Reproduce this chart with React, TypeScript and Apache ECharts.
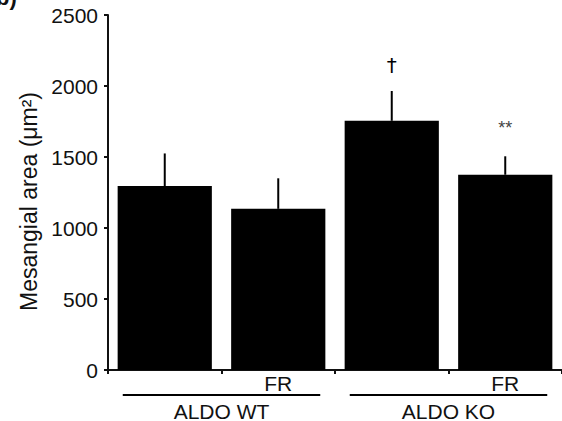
import React, { useEffect, useRef } from "react";
import * as echarts from "echarts";

const categories = ["", "FR", "", "FR"];
const means = [1295, 1135, 1755, 1375];
const errors = [230, 215, 210, 130];
const marks = ["", "", "†", "**"];
const groups = ["ALDO WT", "ALDO KO"];
const groupStart = [0, 2];
const groupEnd = [1, 3];
const yMin = 0;
const yMax = 2500;
const yInterval = 500;

const FONT = "'Liberation Sans', Arial, Helvetica, sans-serif";

export default function App() {
  const ref = useRef<HTMLDivElement>(null);
  useEffect(() => {
    if (!ref.current) return;
    const chart = echarts.init(ref.current, undefined, { renderer: "svg" });
    const option: any = {
      animation: false,
      backgroundColor: "#ffffff",
      textStyle: { fontFamily: FONT },
      grid: { left: 108, right: -4, top: 15, bottom: 51, containLabel: false },
      xAxis: {
        type: "category",
        data: categories,
        axisLine: { show: true, lineStyle: { color: "#111", width: 2 } },
        axisTick: { show: true, length: 4, lineStyle: { color: "#111", width: 2 } },
        axisLabel: { color: "#111", fontSize: 21, fontFamily: FONT, margin: 3, interval: 0 },
        splitLine: { show: false },
      },
      yAxis: {
        type: "value",
        min: yMin,
        max: yMax,
        interval: yInterval,
        name: "Mesangial area (μm²)",
        nameLocation: "middle",
        nameGap: 67,
        nameRotate: 90,
        nameTextStyle: { color: "#111", fontSize: 23, fontFamily: FONT, padding: [0, 18, 0, 0] },
        axisLine: { show: true, lineStyle: { color: "#111", width: 2 } },
        axisTick: { show: true, length: 4, lineStyle: { color: "#111", width: 2 } },
        axisLabel: {
          color: "#111",
          fontSize: 21,
          fontFamily: FONT,
          margin: 10,
          formatter: (v: number) => String(v),
        },
        splitLine: { show: false },
      },
      graphic: [
        {
          type: "text",
          left: -4,
          top: -14,
          style: { text: "b)", fontSize: 22, fontWeight: "bold", fill: "#111", fontFamily: FONT },
        },
      ],
      series: [
        {
          type: "bar",
          data: means,
          barWidth: "83%",
          itemStyle: { color: "#000" },
          silent: true,
        },
        {
          type: "custom",
          clip: false,
          silent: true,
          data: means.map((m, i) => [i, m + errors[i]]),
          renderItem: (params: any, api: any) => {
            const i = params.dataIndex;
            const top = api.coord([i, means[i] + errors[i]]);
            const base = api.coord([i, means[i]]);
            const children: any[] = [
              {
                type: "line",
                shape: { x1: base[0], y1: base[1], x2: top[0], y2: top[1] },
                style: { stroke: "#000", lineWidth: 2 },
              },
            ];
            if (marks[i]) {
              const isDagger = marks[i] === "†";
              children.push({
                type: "text",
                x: top[0],
                y: top[1] - (isDagger ? 26 : 28),
                style: {
                  text: marks[i],
                  fontSize: isDagger ? 20 : 18,
                  fill: isDagger ? "#000000" : "#444444",
                  fontFamily: isDagger ? "'DejaVu Sans', sans-serif" : FONT,
                  align: "center",
                  verticalAlign: "middle",
                },
              });
            }
            return { type: "group", children };
          },
        },
        {
          type: "custom",
          clip: false,
          silent: true,
          data: groups.map((g, i) => [groupStart[i], 0]),
          renderItem: (params: any, api: any) => {
            const i = params.dataIndex;
            const a = api.coord([groupStart[i], 0]);
            const b = api.coord([groupEnd[i], 0]);
            const bw = api.size([1, 0])[0];
            const half = bw * 0.37;
            return {
              type: "group",
              children: [
                {
                  type: "line",
                  shape: { x1: a[0] - half, y1: a[1] + 25, x2: b[0] + half, y2: a[1] + 25 },
                  style: { stroke: "#000", lineWidth: 2 },
                },
                {
                  type: "text",
                  x: (a[0] + b[0]) / 2,
                  y: a[1] + 41,
                  style: {
                    text: groups[i],
                    fontSize: 21,
                    fill: "#111",
                    fontFamily: FONT,
                    align: "center",
                    verticalAlign: "middle",
                  },
                },
              ],
            };
          },
        },
      ],
    };
    chart.setOption(option);
    return () => chart.dispose();
  }, []);
  return (
    <div
      ref={ref}
      style={{ position: "fixed", left: 0, top: 0, width: 562, height: 421, background: "#fff" }}
    />
  );
}
